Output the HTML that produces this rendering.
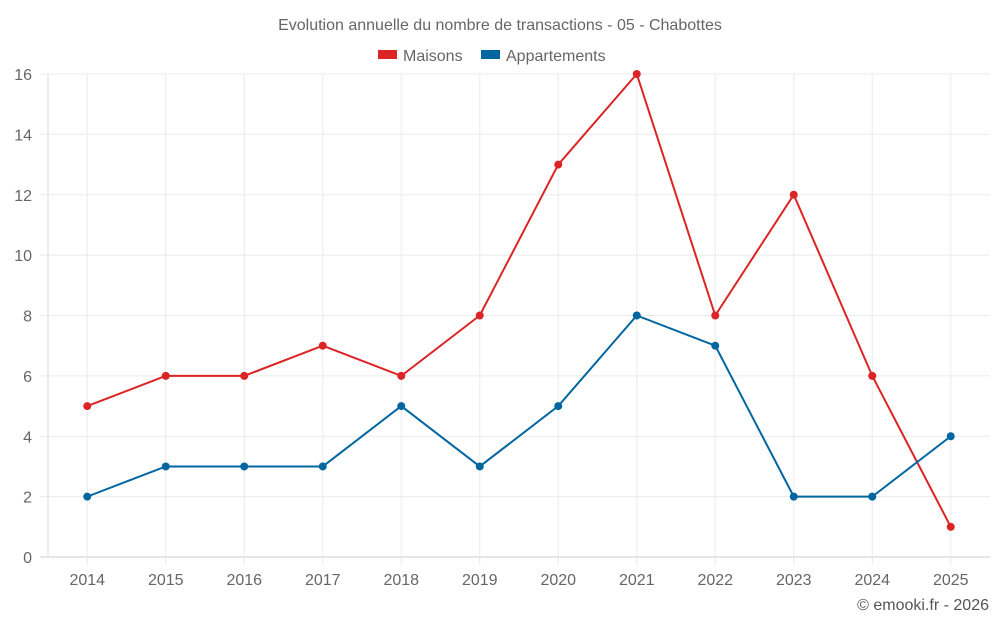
<!DOCTYPE html>
<html><head><meta charset="utf-8">
<style>
html,body{margin:0;padding:0;background:#fff;}
body{width:1000px;height:625px;overflow:hidden;font-family:"Liberation Sans",sans-serif;}
</style></head>
<body>
<svg id="chart" width="1000" height="625" xmlns="http://www.w3.org/2000/svg" font-family="Liberation Sans, sans-serif">
<text x="500" y="30" text-anchor="middle" font-size="16" fill="#666">Evolution annuelle du nombre de transactions - 05 - Chabottes</text>
<g><rect x="378" y="50" width="19" height="9" fill="#dc2424"/><text x="403" y="61" font-size="16" fill="#666">Maisons</text></g>
<g><rect x="481" y="50" width="19" height="9" fill="#0066a2"/><text x="506" y="61" font-size="16" fill="#666">Appartements</text></g>
<g id="grid"></g>
<g id="series"></g>
<text x="989" y="610" text-anchor="end" font-size="16" fill="#555">© emooki.fr - 2026</text>
</svg>
<script>
const years = ["2014","2015","2016","2017","2018","2019","2020","2021","2022","2023","2024","2025"];
const maisons = [5,6,6,7,6,8,13,16,8,12,6,1];
const appartements = [2,3,3,3,5,3,5,8,7,2,2,4];
const yTicks = [0,2,4,6,8,10,12,14,16];
const NS="http://www.w3.org/2000/svg";
const L=48,R=990,T=74,B=557,yMax=16;
const band=(R-L)/years.length;
function xs(i){return L+band*(i+0.5);}
function ys(v){return B-(v/yMax)*(B-T);}
function mk(tag,attrs,parent){const e=document.createElementNS(NS,tag);for(const k in attrs)e.setAttribute(k,attrs[k]);parent.appendChild(e);return e;}
const grid=document.getElementById('grid'), ser=document.getElementById('series');
yTicks.forEach(t=>{
  const l=mk('line',{x1:L-8,x2:R,y1:ys(t),y2:ys(t),stroke:t===0?'#ccc':'#ebebeb','stroke-width':1},grid);
  
  
  const tx=mk('text',{x:32,y:ys(t)+6,'text-anchor':'end','font-size':16,fill:'#666'},grid);
  tx.textContent=t;
  
  
});
const ax=mk('line',{x1:L,x2:L,y1:T,y2:B,stroke:'#ddd','stroke-width':1},grid);


years.forEach((y,i)=>{
  const l=mk('line',{x1:xs(i),x2:xs(i),y1:T,y2:B+8,stroke:'#ebebeb','stroke-width':1},grid);
  
  
  const tx=mk('text',{x:xs(i),y:585,'text-anchor':'middle','font-size':16,fill:'#666'},grid);
  tx.textContent=y;
  
  
});
function drawSeries(vals,color,name){
  const p=mk('polyline',{points:vals.map((v,i)=>xs(i)+','+ys(v)).join(' '),fill:'none',stroke:color,'stroke-width':2},ser);
  
  
  vals.forEach((v,i)=>{
    const c=mk('circle',{cx:xs(i),cy:ys(v),r:4,fill:color},ser);
    
    
  });
}
drawSeries(maisons,'#dc2424','maisons');
drawSeries(appartements,'#0066a2','appartements');
</script>
</body></html>
